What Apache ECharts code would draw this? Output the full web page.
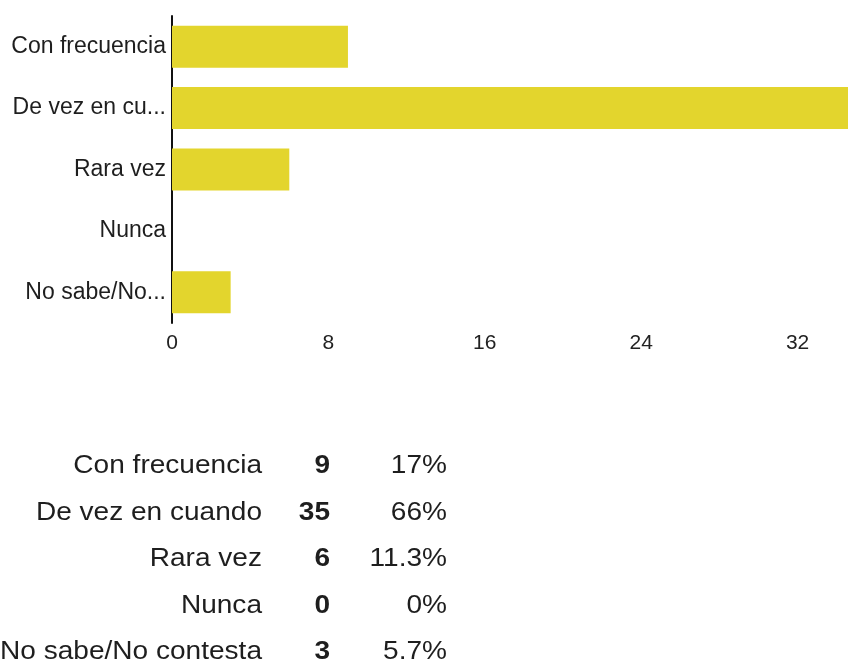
<!DOCTYPE html>
<html>
<head>
<meta charset="utf-8">
<title>Frecuencia</title>
<script src="https://cdn.jsdelivr.net/npm/echarts@6/dist/echarts.min.js"></script>
<style>
  html, body { margin: 0; padding: 0; background: #ffffff; }
  #chart { width: 848px; height: 664px; }
</style>
</head>
<body>
<div id="chart"></div>
<script>
// Response options (full text) and the shortened form shown on the axis
const categories = ['Con frecuencia', 'De vez en cuando', 'Rara vez', 'Nunca', 'No sabe/No contesta'];
const axisLabels = ['Con frecuencia', 'De vez en cu...', 'Rara vez', 'Nunca', 'No sabe/No...'];
// Number of responses per option
const counts = [9, 35, 6, 0, 3];
// Value axis ticks
const xTicks = [0, 8, 16, 24, 32, 40];

const total = counts.reduce((a, b) => a + b, 0);
function pctText(v) {
  const p = Math.round(v / total * 1000) / 10;
  return (p % 1 === 0 ? p.toFixed(0) : p.toFixed(1)) + '%';
}

const FONT = '"Liberation Sans", Arial, sans-serif';
const chart = echarts.init(document.getElementById('chart'), null, { renderer: 'canvas' });

// Summary table under the chart
const rowTop = 466, rowStep = 46.5;
const tableGraphics = [];
categories.forEach((name, i) => {
  const y = rowTop + i * rowStep;
  const cols = [
    { x: 262, text: name, weight: 'normal' },
    { x: 330, text: String(counts[i]), weight: 'bold' },
    { x: 447, text: pctText(counts[i]), weight: 'normal' }
  ];
  cols.forEach(c => {
    tableGraphics.push({
      type: 'text',
      x: c.x,
      y: y,
      scaleX: 1.1,
      silent: true,
      style: {
        x: 0, y: 0,
        text: c.text,
        fill: '#1e1e1e',
        font: c.weight + ' 25.5px ' + FONT,
        align: 'right',
        verticalAlign: 'middle'
      }
    });
  });
});

chart.setOption({
  backgroundColor: '#ffffff',
  animation: false,
  grid: { left: 172, top: 16, width: 782, height: 307, outerBoundsMode: 'none', containLabel: false },
  xAxis: {
    type: 'value',
    min: xTicks[0],
    max: xTicks[xTicks.length - 1],
    interval: xTicks[1] - xTicks[0],
    axisLine: { show: false },
    axisTick: { show: false },
    splitLine: { show: false },
    axisLabel: {
      margin: 10,
      fontSize: 21,
      fontFamily: FONT,
      color: v => (v === 0 ? '#8a8a8a' : '#222222')
    }
  },
  yAxis: {
    type: 'category',
    inverse: true,
    data: categories,
    axisLine: { show: true, lineStyle: { color: '#111111', width: 2 } },
    axisTick: { show: false },
    splitLine: { show: false },
    axisLabel: {
      margin: 6,
      fontSize: 23,
      fontFamily: FONT,
      color: '#1e1e1e',
      formatter: (value, index) => axisLabels[index]
    }
  },
  series: [{
    type: 'bar',
    data: counts,
    barWidth: 42,
    itemStyle: { color: '#e3d52d' }
  }],
  graphic: tableGraphics
});
</script>
</body>
</html>
